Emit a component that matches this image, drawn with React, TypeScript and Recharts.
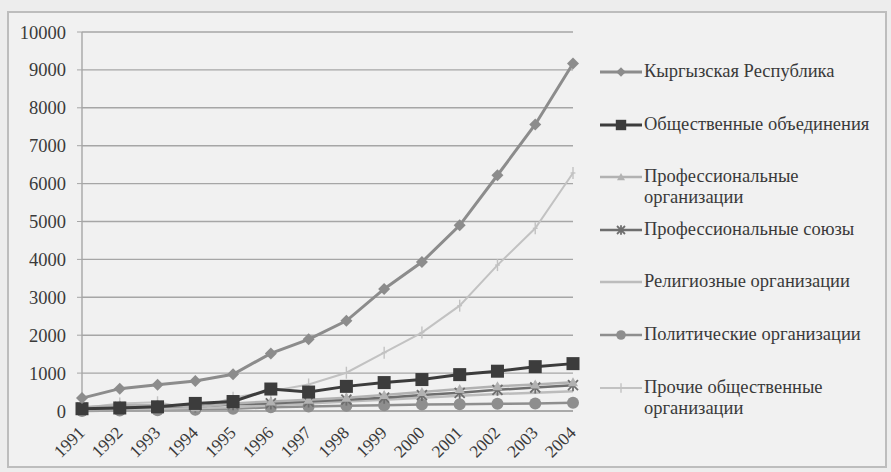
import React from "react";
import { LineChart, Line, XAxis, YAxis, CartesianGrid, Legend } from "recharts";

const years = ["1991", "1992", "1993", "1994", "1995", "1996", "1997", "1998", "1999", "2000", "2001", "2002", "2003", "2004"];

const kyrgyz = [340, 590, 690, 790, 970, 1520, 1890, 2380, 3220, 3930, 4900, 6220, 7560, 9170];
const publicAssoc = [60, 80, 110, 200, 250, 580, 500, 650, 750, 830, 960, 1050, 1170, 1250];
const profOrgs = [100, 150, 150, 100, 200, 250, 300, 350, 420, 500, 580, 650, 700, 760];
const profUnions = [80, 100, 120, 120, 180, 200, 250, 300, 350, 420, 480, 560, 620, 680];
const religious = [30, 50, 60, 80, 100, 150, 200, 250, 300, 350, 400, 450, 480, 520];
const political = [0, 10, 20, 30, 60, 100, 120, 140, 150, 170, 180, 190, 200, 220];
const other = [80, 200, 230, 40, 350, 520, 700, 1010, 1540, 2070, 2780, 3850, 4820, 6280];

const yTicks = [0, 1000, 2000, 3000, 4000, 5000, 6000, 7000, 8000, 9000, 10000];

const data = years.map((y, i) => ({
  year: y,
  kyrgyz: kyrgyz[i],
  publicAssoc: publicAssoc[i],
  profOrgs: profOrgs[i],
  profUnions: profUnions[i],
  religious: religious[i],
  political: political[i],
  other: other[i],
}));

const FONT = "Liberation Serif, DejaVu Serif, serif";

type Shape = "diamond" | "square" | "triangle" | "star" | "none" | "circle" | "plus";

interface SeriesDef {
  key: string;
  name: string;
  color: string;
  width: number;
  shape: Shape;
}

const series: SeriesDef[] = [
  { key: "kyrgyz", name: "Кыргызская Республика", color: "#8c8c8c", width: 3, shape: "diamond" },
  { key: "publicAssoc", name: "Общественные объединения", color: "#3c3c3c", width: 3, shape: "square" },
  { key: "profOrgs", name: "Профессиональные организации", color: "#b2b2b2", width: 2.5, shape: "triangle" },
  { key: "profUnions", name: "Профессиональные союзы", color: "#6e6e6e", width: 2.5, shape: "star" },
  { key: "religious", name: "Религиозные организации", color: "#bcbcbc", width: 2.5, shape: "none" },
  { key: "political", name: "Политические организации", color: "#8e8e8e", width: 2.5, shape: "circle" },
  { key: "other", name: "Прочие общественные организации", color: "#c2c2c2", width: 2, shape: "plus" },
];

function marker(shape: Shape, color: string, cx: number, cy: number, s: number) {
  switch (shape) {
    case "diamond":
      return <path d={`M${cx},${cy - s} L${cx + s},${cy} L${cx},${cy + s} L${cx - s},${cy} Z`} fill={color} />;
    case "square":
      return <rect x={cx - s} y={cy - s} width={s * 2} height={s * 2} fill={color} />;
    case "triangle":
      return <path d={`M${cx},${cy - s} L${cx + s},${cy + s * 0.8} L${cx - s},${cy + s * 0.8} Z`} fill={color} />;
    case "star":
      return (
        <g stroke={color} strokeWidth={1.8}>
          <line x1={cx - s} y1={cy - s} x2={cx + s} y2={cy + s} />
          <line x1={cx - s} y1={cy + s} x2={cx + s} y2={cy - s} />
          <line x1={cx} y1={cy - s * 1.2} x2={cx} y2={cy + s * 1.2} />
        </g>
      );
    case "circle":
      return <circle cx={cx} cy={cy} r={s} fill={color} />;
    case "plus":
      return (
        <g stroke={color} strokeWidth={1.4}>
          <line x1={cx} y1={cy - s} x2={cx} y2={cy + s} />
          <line x1={cx - s * 0.4} y1={cy} x2={cx + s * 0.4} y2={cy} />
        </g>
      );
    default:
      return <g />;
  }
}

const markerSize: Record<Shape, number> = {
  diamond: 6,
  square: 6.5,
  triangle: 5,
  star: 5,
  none: 0,
  circle: 6,
  plus: 6,
};

function makeDot(def: SeriesDef) {
  return (props: any) => {
    const { cx, cy, index } = props;
    if (cx == null || cy == null) return <g key={index} />;
    return <g key={`${def.key}-${index}`}>{marker(def.shape, def.color, cx, cy, markerSize[def.shape])}</g>;
  };
}

const XTick = (props: any) => {
  const { x, y, payload } = props;
  return (
    <g transform={`translate(${x + 1},${y + 12})`}>
      <text transform="rotate(-45)" textAnchor="end" dy={4} fill="#3a3a3a" fontSize={17.5} fontFamily={FONT}>
        {payload.value}
      </text>
    </g>
  );
};

const LegendContent = () => (
  <div style={{ fontFamily: FONT, fontSize: 18.5, color: "#3a3a3a" }}>
    {series.map((s) => (
      <div key={s.key} style={{ height: 52.6, display: "flex", alignItems: "flex-start" }}>
        <svg width={46} height={20} style={{ flexShrink: 0 }}>
          <line x1={2} y1={10} x2={44} y2={10} stroke={s.color} strokeWidth={s.width} />
          {marker(s.shape, s.color, 23, 10, markerSize[s.shape] * 0.8)}
        </svg>
        <div style={{ lineHeight: "21px", marginTop: -1, width: 238 }}>{s.name}</div>
      </div>
    ))}
  </div>
);

export default function App() {
  return (
    <div style={{ position: "absolute", left: 0, top: 0, width: 891, height: 472, background: "#ededed", fontFamily: FONT }}>
      <div style={{ position: "absolute", left: 7, top: 11, width: 876, height: 453, border: "2px solid #bdbdbd", background: "#f1f1f1" }} />
      <div style={{ position: "absolute", left: 0, top: 0 }}>
        <LineChart width={891} height={472} data={data} margin={{ top: 32, right: 33, bottom: 11, left: 0 }}>
          <CartesianGrid vertical={false} stroke="#a6a6a6" strokeWidth={1.4} />
          <XAxis
            dataKey="year"
            height={50}
            tick={<XTick />}
            tickLine={false}
            axisLine={{ stroke: "#a6a6a6", strokeWidth: 1.4 }}
            interval={0}
          />
          <YAxis
            width={82}
            domain={[0, 10000]}
            ticks={yTicks}
            interval={0}
            tick={{ fill: "#3a3a3a", fontSize: 18.5, fontFamily: FONT }}
            tickLine={{ stroke: "#a6a6a6" }}
            tickSize={5}
            tickMargin={11}
            axisLine={{ stroke: "#a6a6a6", strokeWidth: 1.4 }}
          />
          <Legend
            layout="vertical"
            verticalAlign="top"
            align="right"
            content={<LegendContent />}
            wrapperStyle={{ left: 598, top: 62, width: 285 }}
          />
          {[...series].reverse().map((s) => (
            <Line
              key={s.key}
              dataKey={s.key}
              name={s.name}
              stroke={s.color}
              strokeWidth={s.width}
              dot={makeDot(s)}
              activeDot={false}
              isAnimationActive={false}
              type="linear"
            />
          ))}
        </LineChart>
      </div>
    </div>
  );
}
